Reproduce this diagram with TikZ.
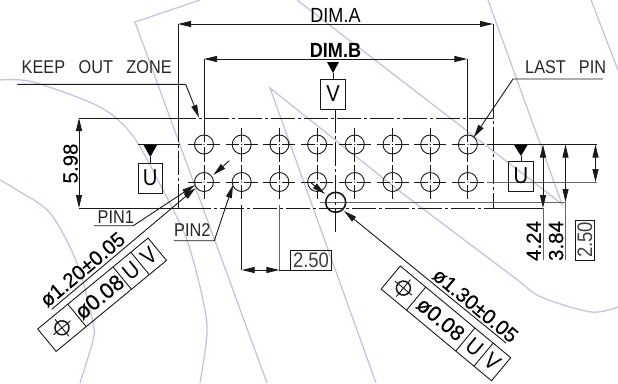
\documentclass[tikz,border=0pt]{standalone}
\usepackage{fontspec}
\newfontfamily\cadfont[FakeStretch=0.88]{Liberation Sans}
\newfontfamily\cadwide[FakeBold=0.35]{Liberation Sans}
\usetikzlibrary{arrows.meta}
\usetikzlibrary{positioning}
\definecolor{wmark}{RGB}{196,196,224}
\tikzset{
    wmarkline/.style={draw=wmark, line width=1.3pt},
    part/.style={draw=black!90, line width=0.9pt},
    partgray/.style={draw=black!60, line width=1pt},
    keepout/.style={part, dash pattern=on 24pt off 3pt on 3pt off 3pt},
    endtip/.style={part, -{Triangle[length=13pt,width=6pt]}},
    bothtips/.style={part, {Triangle[length=13pt,width=6pt]}-{Triangle[length=13pt,width=6pt]}},
    labeltext/.style={font=\cadfont\fontsize{18.5}{18.5}\selectfont, inner sep=0pt, text=black!85},
    dimtext/.style={font=\cadwide\fontsize{20.5}{20.5}\selectfont, inner sep=1pt, text=black},
    datum/.style={part, font=\cadfont\fontsize{23}{23}\selectfont, minimum width=24.5pt, minimum height=30pt, inner sep=0pt},
    framed/.style={part, font=\cadfont\fontsize{21}{21}\selectfont, inner sep=0pt, text=black!75}
}
\begin{document}
\begin{tikzpicture}[x=1pt, y=-1pt]
    \useasboundingbox (0,0) rectangle (618,383);

    % Watermark
    \draw[wmarkline] (200,0) -- (135,22) -- (267,383);
    \draw[wmarkline] plot[smooth] coordinates {(0,80) (33,82) (100,107) (133,136) (163,190) (187,240) (203,300) (207,333) (200,383)};
    \draw[wmarkline] plot[smooth] coordinates {(0,180) (17,190) (50,213) (77,263) (93,323) (93,340) (80,383)};
    \draw[wmarkline] (376,383) -- (270,88) -- (398,190);
    \draw[wmarkline] plot[smooth] coordinates {(398,190) (475,248) (515,278) (541,297) (591,312) (618,307)};
    \draw[wmarkline] (297,0) -- (562,204) -- (488,0);
    \draw[wmarkline] (591,0) -- (618,70);

    % Keep out zone outline
    \draw[keepout] (178,118) rectangle (493,208);
    \draw[part] (79,118) -- (190,118);
    \draw[part] (79,208) -- (190,208);
    \draw[part] (493,208) -- (543,208);

    % Pins
    \foreach \px in {0,1,2,3,4,5,6,7} {
        \pgfmathsetmacro\cx{204+37.7*\px}
        \foreach \py in {144.5,182} {
            \draw[part] (\cx,\py) circle (9.5pt);
            \fill[black] (\cx,\py) circle (0.6pt);
            \draw[part] ({\cx-16},\py) -- ({\cx-2.5},\py);
            \draw[part] ({\cx+2.5},\py) -- ({\cx+16},\py);
            \draw[part] (\cx,{\py-17}) -- (\cx,{\py-2.5});
            \draw[part] (\cx,{\py+2.5}) -- (\cx,{\py+17});
        }
    }

    % Centre lines and extension lines
    \draw[part] (138,144.5) -- (180,144.5);
    \draw[part] (487,144.5) -- (597,144.5);
    \draw[partgray] (487,182) -- (597,182);
    \draw[partgray] (320,202) -- (566,202);
    \draw[keepout] (335.7,109) -- (335.7,232);

    % DIM.A and DIM.B
    \draw[part] (178,24) -- (178,118);
    \draw[part] (493,24) -- (493,118);
    \draw[bothtips] (178,24) -- (493,24);
    \node[dimtext, font=\cadfont\fontsize{20.5}{20.5}\selectfont, anchor=south] (dimA) at (335.5,24) {DIM.A};
    \draw[part] (204,59) -- (204,128);
    \draw[part] (467.3,59) -- (467.3,128);
    \draw[bothtips] (204,59) -- (467.3,59);
    \node[dimtext, font=\cadfont\bfseries\fontsize{20.5}{20.5}\selectfont, anchor=south] (dimB) at (335.5,59) {DIM.B};

    % Datum V
    \node[datum] (boxV) at (333,94) {V};
    \fill[black] (327,62) -- (339,62) -- (333,73) -- cycle;
    \draw[part] (333,73) -- (boxV.north);

    % Datum U, left and right
    \node[datum] (boxUl) at (150.3,178) {U};
    \fill[black] (143.5,145) -- (157,145) -- (150.3,157) -- cycle;
    \draw[part] (150.3,157) -- (boxUl.north);
    \node[datum] (boxUr) at (521,176) {U};
    \fill[black] (514,145) -- (527.5,145) -- (521,156) -- cycle;
    \draw[part] (521,156) -- (boxUr.north);

    % Dimension 5.98
    \draw[bothtips] (79,118) -- (79,208);
    \node[dimtext, rotate=90, anchor=south] (dimHeight) at (79,163.5) {5.98};

    % Dimensions on the right
    \draw[bothtips] (543,144.5) -- (543,208);
    \draw[partgray] (543,208) -- (543,260);
    \draw[bothtips] (565.5,144.5) -- (565.5,202);
    \draw[partgray] (565.5,202) -- (565.5,260);
    \draw[bothtips] (595.5,144.5) -- (595.5,182);
    \node[dimtext, rotate=90, anchor=south] (dimRa) at (542,241) {4.24};
    \node[dimtext, rotate=90, anchor=south] (dimRb) at (564.5,241) {3.84};
    \node[framed, draw, rotate=90, minimum width=40pt, minimum height=18.5pt] (dimRc) at (585,240) {2.50};

    % Pitch dimension
    \draw[part] (241.7,205) -- (241.7,270);
    \draw[partgray] (279.4,205) -- (279.4,270);
    \draw[bothtips] (241.7,270) -- (279.4,270);
    \draw[part] (279.4,270) -- (291,270);
    \node[framed, draw, minimum width=40.5pt, minimum height=19.5pt] (dimPitch) at (311,260.5) {2.50};

    % Leaders
    \node[labeltext, anchor=south west] (keepZone) at (21.5,74) {KEEP\hspace{13.5pt}OUT\hspace{13.5pt}ZONE};
    \draw[endtip] (17.3,84.3) -- (185.7,84.3) -- (199,117.7);
    \node[labeltext, anchor=south west] (lastPin) at (525,74) {LAST\hspace{13pt}PIN};
    \draw[endtip] (603,79) -- (513,79) -- (473.7,137.3);
    \node[labeltext, anchor=south west] (pinOne) at (97.5,224) {PIN1};
    \draw[endtip] (94,225.7) -- (133.3,225.7) -- (195,185);
    \node[labeltext, anchor=south west] (pinTwo) at (174,237) {PIN2};
    \draw[endtip] (174,240.7) -- (214.3,240.7) -- (233,185);

    % Pin hole callout
    \draw[endtip] (51.7,309.3) -- (195.7,188);
    \draw[endtip] (229.3,160.7) -- (213.3,175);
    \node[dimtext, rotate=40, anchor=south] (holeA) at (88,276) {ø1.20±0.05};

    % Big hole callout
    \draw[part, line width=1.6pt] (335.7,202.3) circle (10pt);
    \draw[endtip] (506,343) -- (344,211);
    \draw[endtip] (310,182) -- (325,194);
    \node[dimtext, rotate=-39.7, anchor=south] (holeB) at (470,312) {ø1.30±0.05};

    % Position frame, left
    \begin{scope}[shift={(37.7,329)}, rotate=39.5]
        \draw[part] (0,0) rectangle (143,29);
        \foreach \d in {39,97.6,120.7} {
            \draw[part] (\d,0) -- (\d,29);
        }
        \draw[part, line width=1.5pt] (19.5,14.5) circle (7pt);
        \draw[part] (19.5,3.5) -- (19.5,25.5);
        \draw[part] (8.5,14.5) -- (30.5,14.5);
        \node[dimtext, font=\cadwide\fontsize{22}{22}\selectfont, rotate=39.5] (tolA) at (68,14.5) {ø0.08};
        \node[dimtext, font=\cadfont\fontsize{23}{23}\selectfont, rotate=39.5] (tolAu) at (109,14.5) {U};
        \node[dimtext, font=\cadfont\fontsize{23}{23}\selectfont, rotate=39.5] (tolAv) at (132,14.5) {V};
    \end{scope}

    % Position frame, right
    \begin{scope}[shift={(400.3,266)}, rotate=-39.7]
        \draw[part] (0,0) rectangle (143.5,30);
        \foreach \d in {33,97,120.7} {
            \draw[part] (\d,0) -- (\d,30);
        }
        \draw[part, line width=1.5pt] (16.5,15) circle (7pt);
        \draw[part] (16.5,4) -- (16.5,26);
        \draw[part] (5.5,15) -- (27.5,15);
        \node[dimtext, font=\cadwide\fontsize{21.5}{21.5}\selectfont, rotate=-39.7] (tolB) at (65,15) {ø0.08};
        \node[dimtext, font=\cadfont\fontsize{23}{23}\selectfont, rotate=-39.7] (tolBu) at (109,15) {U};
        \node[dimtext, font=\cadfont\fontsize{23}{23}\selectfont, rotate=-39.7] (tolBv) at (132,15) {V};
    \end{scope}
\end{tikzpicture}
\end{document}
